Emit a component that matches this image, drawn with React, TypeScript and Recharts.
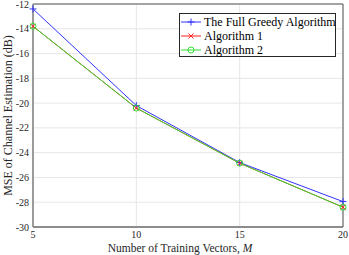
import React from 'react';
import { LineChart, Line, XAxis, YAxis, CartesianGrid, Legend, ReferenceArea } from 'recharts';

const trainingVectors = [5, 10, 15, 20];
const fullGreedy = [-12.4, -20.2, -24.8, -27.95];
const algorithm1 = [-13.8, -20.4, -24.85, -28.4];
const algorithm2 = [-13.8, -20.4, -24.85, -28.4];
const xTicks = [5, 10, 15, 20];
const yTicks = [-30, -28, -26, -24, -22, -20, -18, -16, -14, -12];

const seriesNames = ['The Full Greedy Algorithm', 'Algorithm 1', 'Algorithm 2'];
const BLUE = '#3333ff';
const RED = '#ff2020';
const GREEN = '#33dd33';

const data = trainingVectors.map((m, i) => ({
  m,
  greedy: fullGreedy[i],
  alg1: algorithm1[i],
  alg2: algorithm2[i],
}));

const FONT = 'Liberation Serif, Times New Roman, Times, serif';

const PlusMark = ({ cx, cy, color }: any) => (
  <g>
    <line x1={cx - 3.5} y1={cy} x2={cx + 3.5} y2={cy} stroke={color} strokeWidth={1} />
    <line x1={cx} y1={cy - 3.5} x2={cx} y2={cy + 3.5} stroke={color} strokeWidth={1} />
  </g>
);
const XMark = ({ cx, cy, color }: any) => (
  <g>
    <line x1={cx - 2.5} y1={cy - 2.5} x2={cx + 2.5} y2={cy + 2.5} stroke={color} strokeWidth={1} />
    <line x1={cx - 2.5} y1={cy + 2.5} x2={cx + 2.5} y2={cy - 2.5} stroke={color} strokeWidth={1} />
  </g>
);
const OMark = ({ cx, cy, color }: any) => (
  <circle cx={cx} cy={cy} r={3} fill="none" stroke={color} strokeWidth={1} />
);

const markers = [
  (p: any) => <PlusMark {...p} color={BLUE} />,
  (p: any) => <XMark {...p} color={RED} />,
  (p: any) => <OMark {...p} color={GREEN} />,
];
const colors = [BLUE, RED, GREEN];

const LegendContent = () => (
  <div
    style={{
      border: '1px solid #262626',
      background: '#fff',
      width: 155,
      height: 42,
      boxSizing: 'content-box',
      fontFamily: FONT,
      fontSize: 12,
      color: '#000',
      position: 'relative',
    }}
  >
    {seriesNames.map((name, i) => (
      <div
        key={name}
        style={{ position: 'absolute', left: 0, top: 1 + i * 14, height: 14, display: 'flex', alignItems: 'center', whiteSpace: 'nowrap' }}
      >
        <svg width={22} height={14} style={{ display: 'block' }}>
          <line x1={1} y1={7} x2={21} y2={7} stroke={colors[i]} strokeWidth={1} />
          {markers[i]({ cx: 11, cy: 7 })}
        </svg>
        <span style={{ marginLeft: 2 }}>{name}</span>
      </div>
    ))}
  </div>
);

const YLabel = (props: any) => {
  const vb = props.viewBox;
  const cy = vb.y + vb.height / 2;
  return (
    <text
      x={8}
      y={cy}
      transform={`rotate(-90, 8, ${cy})`}
      textAnchor="middle"
      dominantBaseline="central"
      style={{ fontFamily: FONT }}
      fontSize={12}
      fill="#262626"
    >
      MSE of Channel Estimation (dB)
    </text>
  );
};

const XLabel = (props: any) => {
  const vb = props.viewBox;
  const cx = vb.x + vb.width / 2 - 8;
  return (
    <text x={cx} y={248} textAnchor="middle" dominantBaseline="central" style={{ fontFamily: FONT }} fontSize={11.5} fill="#262626">
      Number of Training Vectors, <tspan fontStyle="italic">M</tspan>
    </text>
  );
};

export default function App() {
  return (
    <div style={{ position: 'absolute', left: 0, top: 0, background: '#fff', fontFamily: FONT }}>
      <LineChart width={349} height={255} data={data} margin={{ top: 4, right: 6, left: 0, bottom: 0 }} style={{ fontFamily: FONT }}>
        <CartesianGrid stroke="#e6e6e6" strokeWidth={1} ticks={yTicks as any} />
        <XAxis
          dataKey="m"
          type="number"
          domain={[5, 20]}
          ticks={xTicks}
          height={28}
          tickLine={false}
          tickSize={4}
          tickMargin={0}
          axisLine={{ stroke: '#777', strokeWidth: 1 }}
          tick={{ fontFamily: FONT, fontSize: 10, fill: '#262626' }}
          label={{ content: XLabel } as any}
        />
        <YAxis
          type="number"
          domain={[-30, -12]}
          ticks={yTicks}
          width={33}
          interval={0}
          tickLine={false}
          tickSize={2}
          tickMargin={2}
          axisLine={{ stroke: '#999', strokeWidth: 1.5 }}
          tick={{ fontFamily: FONT, fontSize: 10, fill: '#262626' }}
          label={{ content: YLabel } as any}
        />
        <ReferenceArea x1={5} x2={20} y1={-30} y2={-12} fill="none" stroke="#555" strokeWidth={1} ifOverflow="visible" />
        <Legend
          layout="vertical"
          align="center"
          verticalAlign="middle"
          wrapperStyle={{ top: 13, left: 179, width: 157, height: 44 }}
          content={LegendContent as any}
        />
        <Line dataKey="greedy" name={seriesNames[0]} stroke={BLUE} strokeWidth={1} isAnimationActive={false} dot={markers[0] as any} activeDot={false} />
        <Line dataKey="alg1" name={seriesNames[1]} stroke={RED} strokeWidth={1} isAnimationActive={false} dot={markers[1] as any} activeDot={false} />
        <Line dataKey="alg2" name={seriesNames[2]} stroke={GREEN} strokeWidth={1} isAnimationActive={false} dot={markers[2] as any} activeDot={false} />
      </LineChart>
    </div>
  );
}
